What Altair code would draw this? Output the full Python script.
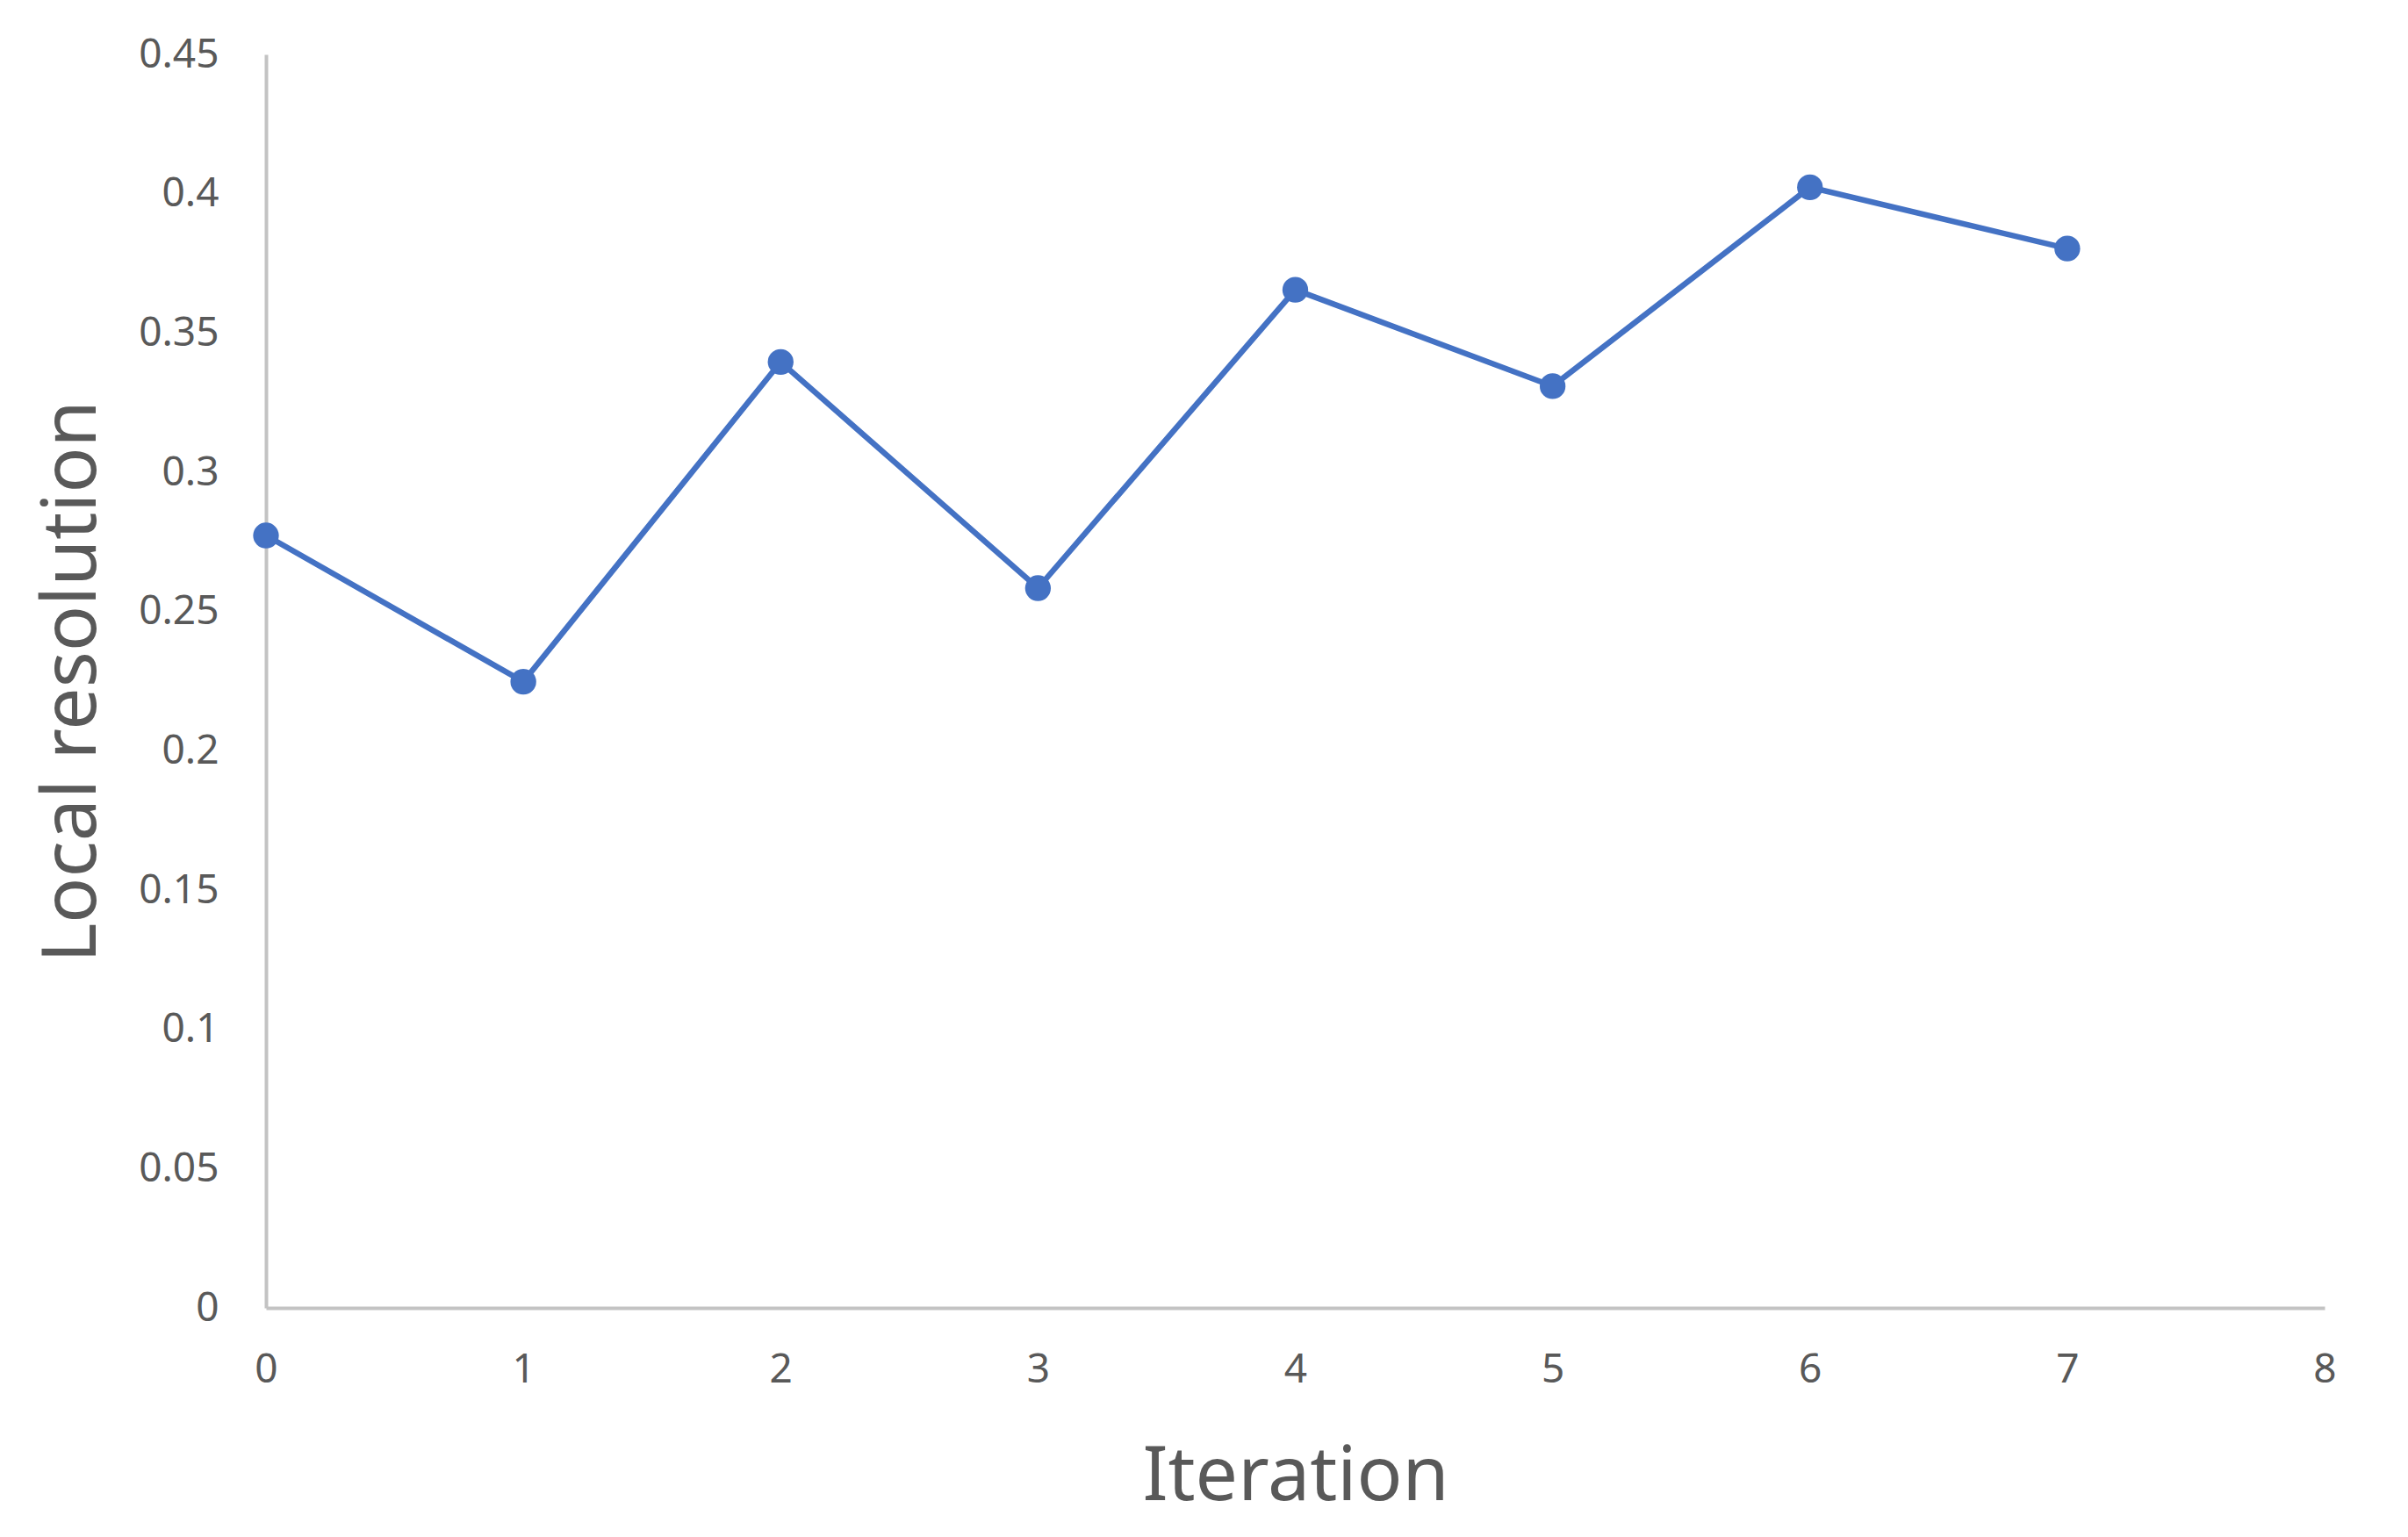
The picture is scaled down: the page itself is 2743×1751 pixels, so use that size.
import altair as alt
import pandas as pd

iterations = [0, 1, 2, 3, 4, 5, 6, 7]
resolution = [0.2773, 0.2248, 0.3396, 0.2584, 0.3655, 0.3309, 0.4023, 0.3803]
x_ticks = [0, 1, 2, 3, 4, 5, 6, 7, 8]
y_ticks = [0, 0.05, 0.1, 0.15, 0.2, 0.25, 0.3, 0.35, 0.4, 0.45]

df = pd.DataFrame({"Iteration": iterations, "Local resolution": resolution})

W, H = 2345, 1428
FONT = "Noto Sans"
TXT = "#595959"
BLUE = "#4472C4"

x = alt.X(
    "Iteration:Q",
    scale=alt.Scale(domain=[0, 8], nice=False, zero=False),
    axis=alt.Axis(
        values=x_ticks, title="Iteration", grid=False, ticks=False, tickSize=0,
        domainColor="#c3c3c3", domainWidth=4,
        labelFont=FONT, labelFontSize=46, labelColor=TXT, labelPadding=48,
        labelFlush=False, labelOverlap=False,
        titleFont=FONT, titleFontSize=86, titleFontWeight="normal", titleColor=TXT,
        titleX=W / 2, titleY=218, titleBaseline="alphabetic", titleAlign="center",
    ),
)
y = alt.Y(
    "Local resolution:Q",
    scale=alt.Scale(domain=[0, 0.45], nice=False, zero=True),
    axis=alt.Axis(
        values=y_ticks, title="Local resolution", grid=False, ticks=False, tickSize=0,
        domainColor="#c3c3c3", domainWidth=4,
        labelFont=FONT, labelFontSize=46, labelColor=TXT, labelPadding=54,
        labelFlush=False, labelOverlap=False,
        labelExpr="datum.value == 0 ? '0' : format(datum.value, '.2~f')",
        titleFont=FONT, titleFontSize=86, titleFontWeight="normal", titleColor=TXT,
        titleX=-195, titleY=H / 2, titleAngle=-90, titleBaseline="alphabetic",
        titleAlign="center",
    ),
)

line = alt.Chart(df).mark_line(color=BLUE, strokeWidth=6.5).encode(x=x, y=y)
pts = alt.Chart(df).mark_point(filled=True, color=BLUE, size=860, opacity=1).encode(x=x, y=y)

chart = (
    alt.layer(line, pts)
    .properties(
        width=W, height=H,
        autosize=alt.AutoSizeParams(type="none"),
        padding={"left": 295, "top": 54, "right": 80, "bottom": 250},
        view=alt.ViewBackground(stroke="transparent", strokeWidth=0),
    )
    .configure_view(stroke="transparent", strokeWidth=0)
    .configure(background="white")
)

chart.save("out.html", embed_options={"renderer": "svg", "actions": False})
